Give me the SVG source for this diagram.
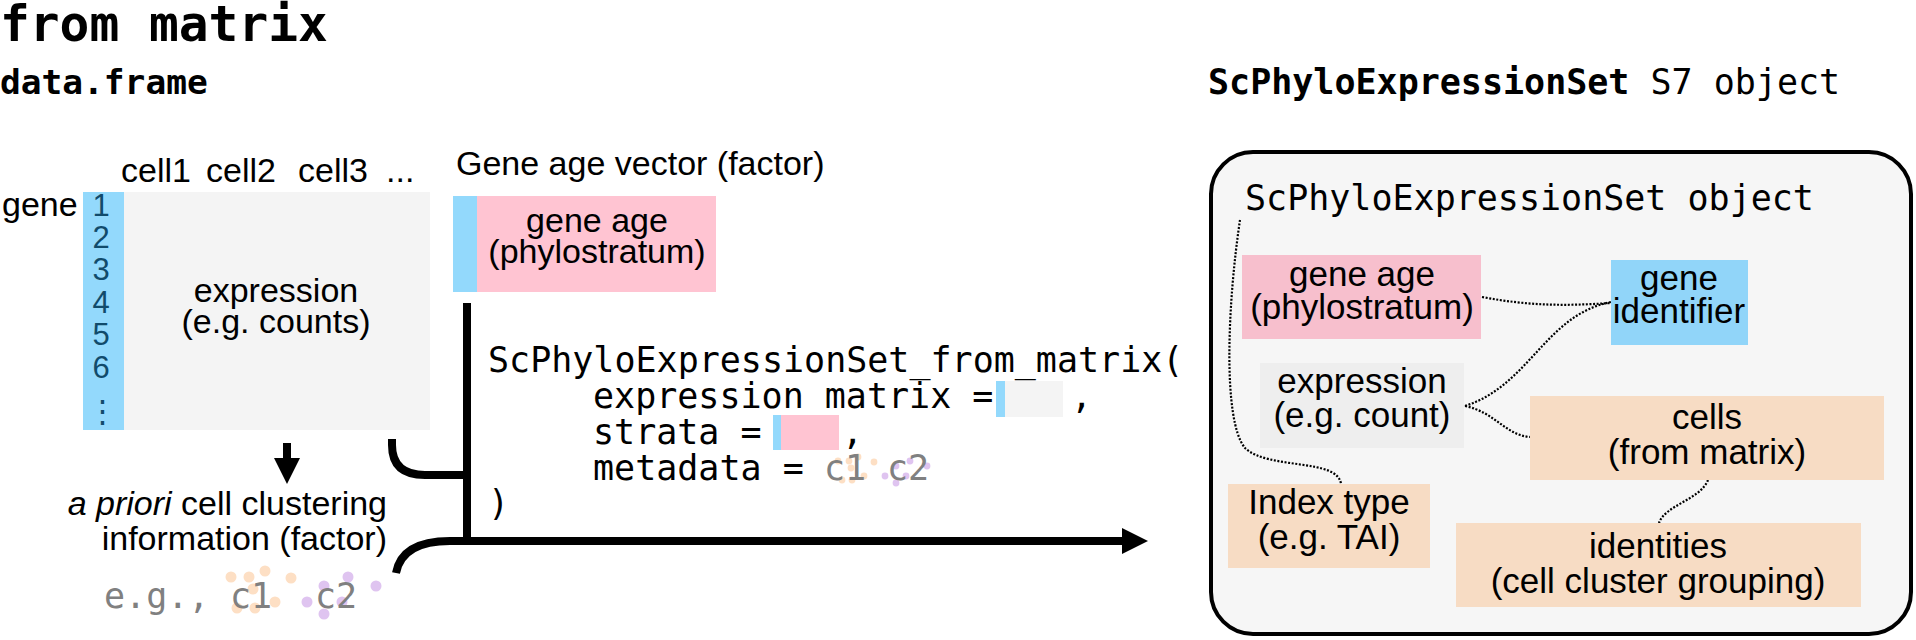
<svg xmlns="http://www.w3.org/2000/svg" width="1916" height="640" viewBox="0 0 1916 640">
<style>
.sans{font-family:"Liberation Sans",Arial,sans-serif;font-size:34px;fill:#000}
.rs{font-size:35px}
.mono{font-family:"DejaVu Sans Mono",monospace;font-size:35px;fill:#000}
.monob{font-family:"DejaVu Sans Mono",monospace;font-weight:bold;fill:#000}
.gray{fill:#808080}
.num{font-family:"Liberation Sans",Arial,sans-serif;font-size:31px;fill:#114b6b}
.mid{text-anchor:middle}
.blue{fill:#93d9fc}
.pink{fill:#ffc4d2}
.peach{fill:#fddfc4}
.purple{fill:#dfc4f0}
.thick{fill:none;stroke:#000;stroke-width:8}
.dot{fill:none;stroke:#000;stroke-width:2.2;stroke-dasharray:2 1.6}
</style>
<defs>
<marker id="ah" markerUnits="userSpaceOnUse" markerWidth="26" markerHeight="26" viewBox="0 0 26 26" refX="0" refY="13" orient="auto">
<path d="M0 0 L26 13 L0 26 Z" fill="#000"/>
</marker>
</defs>
<rect width="1916" height="640" fill="#fff"/>

<g id="titles">
<text class="monob" x="0" y="41" font-size="49.5">from matrix</text>
<text class="monob" x="0" y="94" font-size="34.5">data.frame</text>
<text class="mono" x="1208" y="94" font-size="34.8"><tspan font-weight="bold">ScPhyloExpressionSet</tspan> S7 object</text>
</g>

<g id="matrix">
<rect x="83" y="192" width="347" height="238" fill="#f4f4f4"/>
<rect x="83" y="192" width="41" height="238" class="blue"/>
<text class="sans" x="121" y="182">cell1</text>
<text class="sans" x="206" y="182">cell2</text>
<text class="sans" x="298" y="182">cell3</text>
<text class="sans" x="386" y="182">...</text>
<text class="sans" x="2" y="216">gene</text>
<text class="num mid" x="101" y="216">1</text>
<text class="num mid" x="101" y="248">2</text>
<text class="num mid" x="101" y="280">3</text>
<text class="num mid" x="101" y="313">4</text>
<text class="num mid" x="101" y="345">5</text>
<text class="num mid" x="101" y="378">6</text>
<text class="num mid" x="102" y="422" font-family="DejaVu Sans, sans-serif" font-size="26">⋮</text>
<text class="sans mid" x="276" y="302">expression</text>
<text class="sans mid" x="276" y="333">(e.g. counts)</text>
</g>

<g id="geneage">
<text class="sans" x="456" y="175" font-size="34.5">Gene age vector (factor)</text>
<rect x="453" y="196" width="24" height="96" class="blue"/>
<rect x="477" y="196" width="239" height="96" class="pink"/>
<text class="sans mid" x="597" y="232">gene age</text>
<text class="sans mid" x="597" y="263">(phylostratum)</text>
</g>

<g id="clustering">
<text class="sans" x="387" y="515" text-anchor="end"><tspan font-style="italic">a priori</tspan> cell clustering</text>
<text class="sans" x="387" y="550" text-anchor="end">information (factor)</text>
<g class="peach">
<circle cx="231" cy="577" r="5.5"/><circle cx="249" cy="577" r="5.5"/><circle cx="265" cy="571" r="5.5"/><circle cx="291" cy="578" r="5.5"/>
<circle cx="253" cy="589" r="5.5"/><circle cx="237" cy="608" r="5.5"/><circle cx="255" cy="608" r="5.5"/><circle cx="275" cy="602" r="5.5"/>
</g>
<g class="purple">
<circle cx="348" cy="577" r="5.5"/><circle cx="324" cy="586" r="5.5"/><circle cx="376" cy="586" r="5.5"/>
<circle cx="307" cy="602" r="5.5"/><circle cx="342" cy="602" r="5.5"/><circle cx="324" cy="614" r="5.5"/>
</g>
<text class="mono gray" x="104" y="608">e.g.,</text>
<text class="mono gray" x="230" y="608">c1</text>
<text class="mono gray" x="315" y="608">c2</text>
</g>

<g id="code">
<text class="mono" x="488" y="372">ScPhyloExpressionSet_from_matrix(</text>
<text class="mono" x="593" y="408">expression_matrix =</text>
<rect x="996" y="381" width="9" height="36" class="blue"/>
<rect x="1005" y="381" width="58" height="36" fill="#f4f4f4"/>
<text class="mono" x="1071" y="408">,</text>
<text class="mono" x="593" y="444">strata =</text>
<rect x="773" y="415" width="8" height="35" class="blue"/>
<rect x="781" y="415" width="58" height="35" class="pink"/>
<text class="mono" x="842" y="444">,</text>
<text class="mono" x="593" y="480">metadata =</text>
<g class="peach">
<circle cx="838" cy="461" r="3.4"/><circle cx="849" cy="461" r="3.4"/><circle cx="858" cy="457" r="3.4"/><circle cx="874" cy="462" r="3.4"/>
<circle cx="851" cy="468" r="3.4"/><circle cx="842" cy="480" r="3.4"/><circle cx="852" cy="480" r="3.4"/><circle cx="864" cy="476" r="3.4"/>
</g>
<g class="purple">
<circle cx="910" cy="461" r="3.4"/><circle cx="896" cy="466" r="3.4"/><circle cx="927" cy="466" r="3.4"/>
<circle cx="885" cy="476" r="3.4"/><circle cx="906" cy="476" r="3.4"/><circle cx="896" cy="483" r="3.4"/>
</g>
<text class="mono gray" x="824" y="480">c1</text>
<text class="mono gray" x="887" y="480">c2</text>
<text class="mono" x="488" y="515">)</text>
</g>

<g id="connectors">
<path class="thick" d="M392 439 L392 445 Q392 475 425 475 L467 475"/>
<path class="thick" d="M467 303 L467 545"/>
<path class="thick" d="M396 573 Q402 541 450 541 L467 541"/>
<path class="thick" d="M465 541 L1122 541" marker-end="url(#ah)"/>
<path class="thick" d="M287 443 L287 458" marker-end="url(#ah)"/>
</g>

<g id="object">
<rect x="1211" y="152" width="700" height="482" rx="42" ry="42" fill="#f6f6f6" stroke="#000" stroke-width="4"/>
<text class="mono" x="1245" y="210" font-size="34.7">ScPhyloExpressionSet object</text>
</g>

<g id="obj-connectors">
<path class="dot" d="M1482 297 C1530 306 1565 306 1611 303"/>
<path class="dot" d="M1465 406 C1530 385 1545 315 1611 302"/>
<path class="dot" d="M1465 406 C1495 412 1505 435 1530 437"/>
<path class="dot" d="M1708 480 C1700 500 1665 505 1659 523"/>
<path class="dot" d="M1240 220 C1228 300 1222 420 1245 448 C1268 470 1338 458 1341 484"/>
</g>

<g id="n-geneage">
<rect x="1242" y="255" width="239" height="84" fill="#f7bfcd"/>
<text class="sans rs mid" x="1362" y="286">gene age</text>
<text class="sans rs mid" x="1362" y="319">(phylostratum)</text>
</g>
<g id="n-geneid">
<rect x="1611" y="260" width="137" height="85" fill="#91d5f9"/>
<text class="sans rs mid" x="1679" y="290">gene</text>
<text class="sans rs mid" x="1679" y="323">identifier</text>
</g>
<g id="n-expression">
<rect x="1260" y="363" width="204" height="85" fill="#eeeeee"/>
<text class="sans rs mid" x="1362" y="393">expression</text>
<text class="sans rs mid" x="1362" y="427">(e.g. count)</text>
</g>
<g id="n-cells">
<rect x="1530" y="396" width="354" height="84" fill="#f7dcc4"/>
<text class="sans rs mid" x="1707" y="429">cells</text>
<text class="sans rs mid" x="1707" y="464">(from matrix)</text>
</g>
<g id="n-index">
<rect x="1228" y="484" width="202" height="84" fill="#f7dcc4"/>
<text class="sans rs mid" x="1329" y="514">Index type</text>
<text class="sans rs mid" x="1329" y="549">(e.g. TAI)</text>
</g>
<g id="n-identities">
<rect x="1456" y="523" width="405" height="84" fill="#f7dcc4"/>
<text class="sans rs mid" x="1658" y="558">identities</text>
<text class="sans rs mid" x="1658" y="593">(cell cluster grouping)</text>
</g>
</svg>
